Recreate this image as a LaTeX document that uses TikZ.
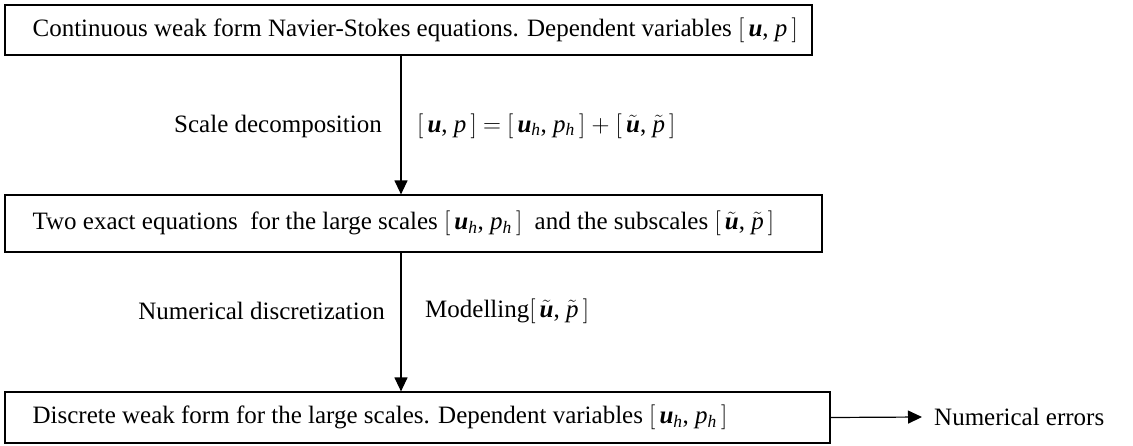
\documentclass[tikz,border=0pt]{standalone}
\usepackage{fontspec}
\setmainfont{Liberation Serif}
\usetikzlibrary{arrows.meta}
\newcommand{\bu}{\textbf{\textit{u}}}
\newcommand{\bp}{\textit{p}}
\newcommand{\tu}{$\tilde{\textbf{\textit{u}}}$}
\newcommand{\tp}{$\tilde{\textit{p}}$}
\newcommand{\hs}{\textsubscript{\textit{h}}}
\newcommand{\brk}[1]{$\big[\,$#1$\,\big]$}
\tikzset{
    box/.style={draw, line width=1.2pt, inner sep=0pt},
    txt/.style={inner sep=0pt, font=\fontsize{25}{30}\selectfont},
    arr/.style={line width=1.2pt, -{Triangle[length=14pt,width=13pt]}}
}
\begin{document}
\begin{tikzpicture}[x=1pt, y=-1pt]
    \useasboundingbox (0,0) rectangle (1133,445);
    % 三个方框
    \node[box, minimum width=807pt, minimum height=50pt] (cont) at (408.5,30) {};
    \node[box, minimum width=817pt, minimum height=57pt] (exact) at (413.5,223.5) {};
    \node[box, minimum width=825pt, minimum height=51pt] (disc) at (417.5,417.5) {};
    \node[txt, anchor=west] (contT) at ([xshift=28pt]cont.west)
        {Continuous weak form Navier-Stokes equations. Dependent variables \brk{\bu, \bp}};
    \node[txt, anchor=west] (exactT) at ([xshift=28pt]exact.west)
        {Two exact equations\ \ for the large scales \brk{\bu\hs, \bp\hs}\ \ and the subscales \brk{\tu, \tp}};
    \node[txt, anchor=west] (discT) at ([xshift=28pt]disc.west)
        {Discrete weak form for the large scales. Dependent variables \brk{\bu\hs, \bp\hs}};

    % 竖直箭头
    \coordinate (a1) at (401,0);
    \draw[arr] (cont.south -| a1) -- (exact.north -| a1);
    \draw[arr] (exact.south -| a1) -- (disc.north -| a1);

    % 箭头旁的说明
    \node[txt, anchor=east] (scale) at (382,126) {Scale decomposition};
    \node[txt, anchor=west] (split) at (417,126)
        {\brk{\bu, \bp} $=$ \brk{\bu\hs, \bp\hs} $+$ \brk{\tu, \tp}};
    \node[txt, anchor=east] (numd) at (385,311) {Numerical discretization};
    \node[txt, anchor=west] (model) at (425,311) {Modelling\brk{\tu, \tp}};

    % 右边：误差
    \node[txt, anchor=west] (err) at (934,417) {Numerical errors};
    \draw[arr] (disc.east) -- ([xshift=-12pt]err.west);
\end{tikzpicture}
\end{document}
